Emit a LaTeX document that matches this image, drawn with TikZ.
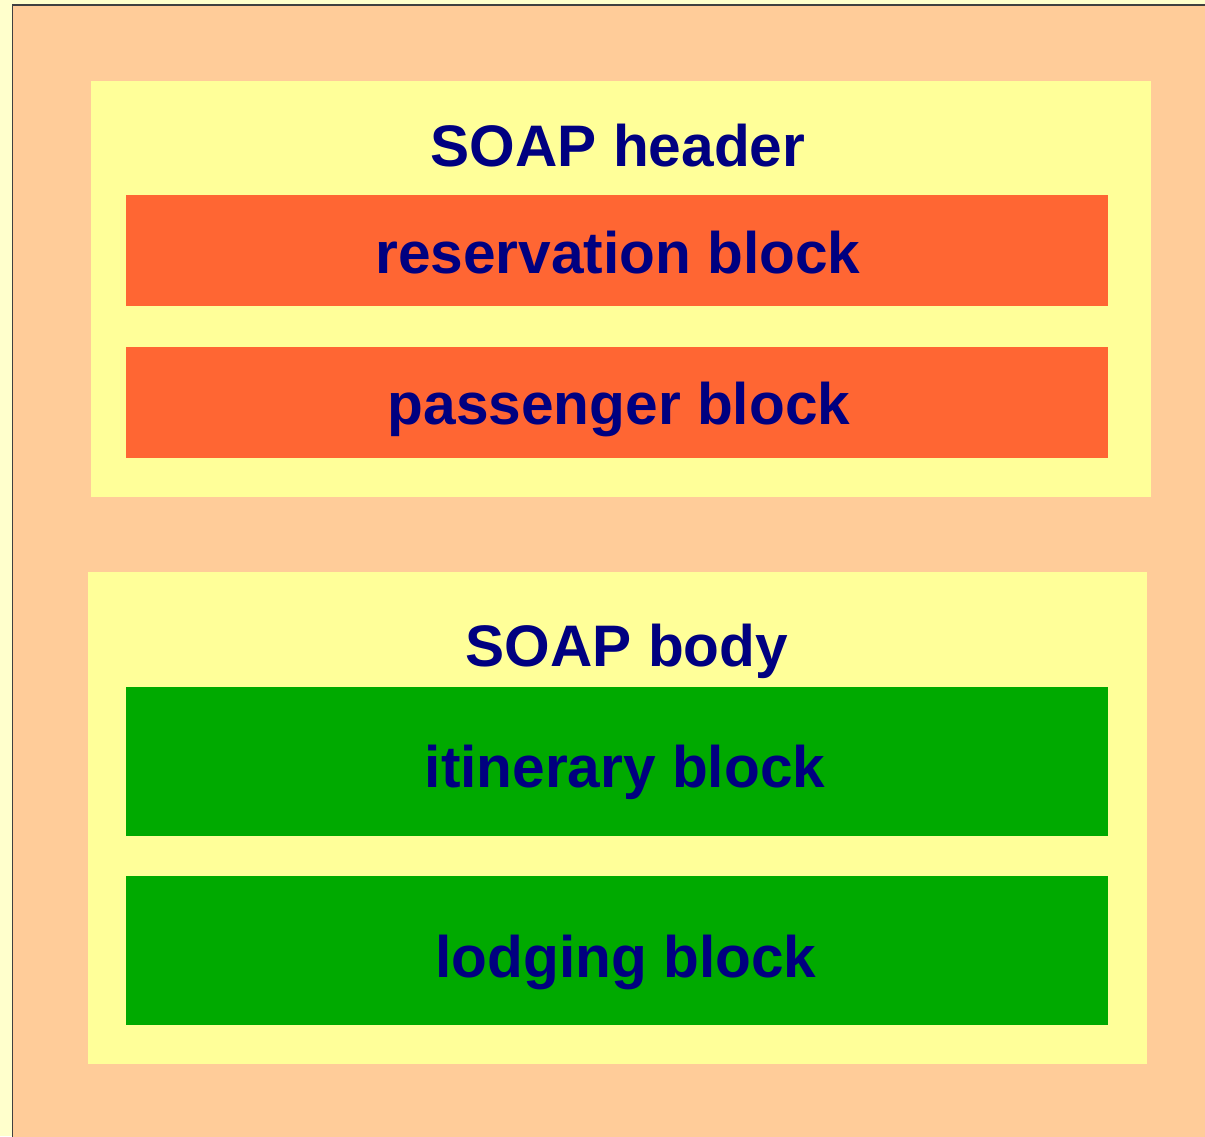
\documentclass[tikz,border=0pt]{standalone}
\usepackage{fontspec}
\setmainfont{Liberation Sans}
\definecolor{outside}{HTML}{FFFFCC}
\definecolor{peach}{HTML}{FFCC99}
\definecolor{paleyellow}{HTML}{FFFF99}
\definecolor{redblock}{HTML}{FF6633}
\definecolor{greenblock}{HTML}{00AA00}
\definecolor{navytext}{HTML}{000080}
\begin{document}
\begin{tikzpicture}[x=1pt,y=1pt,
  lbl/.style={font=\fontsize{58.6}{60}\selectfont\bfseries, text=navytext, anchor=base, inner sep=0pt}]
\useasboundingbox (0,0) rectangle (1205,-1136);
\fill[outside] (0,0) rectangle (1205,-1136);
\fill[peach] (12.5,-5) rectangle (1210,-1140);
\draw[line width=1.8pt, black!75] (12.5,-1140) -- (12.5,-5) -- (1210,-5);
% header container
\fill[paleyellow] (91,-81) rectangle (1151,-497);
\fill[redblock] (126,-195) rectangle (1108,-306);
\fill[redblock] (126,-347) rectangle (1108,-458);
% body container
\fill[paleyellow] (88,-572) rectangle (1147,-1064);
\fill[greenblock] (126,-687) rectangle (1108,-836);
\fill[greenblock] (126,-876) rectangle (1108,-1025);
% labels
\node[lbl] (hdr) at (618,-166) {SOAP header};
\node[lbl] (res) at (618,-273) {reservation block};
\node[lbl] (pas) at (619,-424) {passenger block};
\node[lbl] (bdy) at (627,-666) {SOAP body};
\node[lbl] (iti) at (625,-787) {itinerary block};
\node[lbl] (lod) at (626,-977) {lodging block};
\end{tikzpicture}
\end{document}
